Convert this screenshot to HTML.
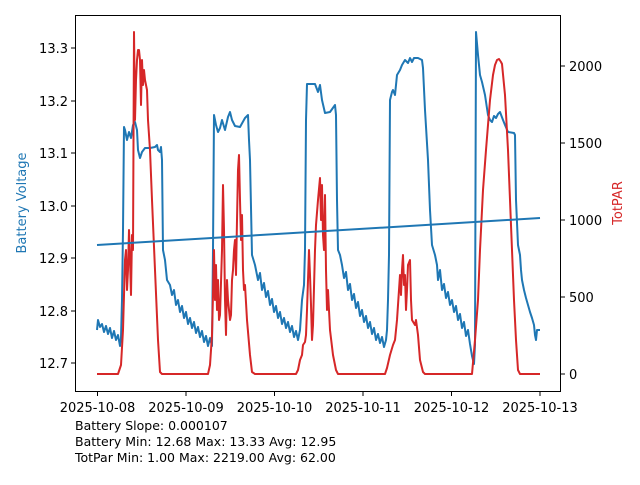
<!DOCTYPE html>
<html><head><style>
body{margin:0;background:#fff;}
svg text{font-family:"DejaVu Sans","Liberation Sans",sans-serif;}
</style></head><body>
<svg width="640" height="480" xmlns="http://www.w3.org/2000/svg">
<rect width="640" height="480" fill="#fff"/>
<g fill="none" stroke-linejoin="round">
<polyline stroke="#1f77b4" stroke-width="2" points="97,330 98,320 100,327 102,324 104,332 106,326 108,334 110,328 112,338 114,331 116,340 118,335 120,346 121,338 122,300 123,230 124,127 125,130 127,140 129,132 131,138 133,125 135,122 137,130 138,150 140,158 142,152 145,148 150,148 155,147 157,145 158,150 160,152 161,147 162,160 163,250 165,260 167,280 170,285 172,295 174,290 176,305 178,300 180,312 182,306 184,318 186,312 188,324 190,318 192,328 194,322 196,333 198,327 200,337 202,331 204,342 206,336 208,346 210,338 212,346 213,250 214,115 216,125 218,132 220,128 222,120 225,130 228,117 230,112 232,120 235,126 240,127 245,118 248,115 249,140 250,160 252,255 255,265 258,280 260,273 262,290 264,283 266,297 268,291 270,305 272,299 274,312 276,306 278,318 280,312 282,324 284,318 286,328 288,322 290,332 292,326 294,337 296,331 298,340 300,330 302,300 304,285 305,250 306,120 307,84 315,84 318,92 320,85 322,100 325,113 330,112 335,105 336,115 337,200 338,250 340,255 342,265 344,278 346,272 348,290 350,284 352,300 354,294 356,308 358,302 360,316 362,310 364,322 366,316 368,328 370,322 372,334 374,328 376,340 378,334 380,343 382,337 384,347 386,340 387,330 388,300 389,255 390,100 392,92 393,90 395,95 397,75 400,70 402,65 405,60 408,63 410,58 412,62 414,58 418,58 422,60 423,68 425,110 428,160 430,210 432,245 435,255 437,265 438,280 440,270 442,290 444,284 446,298 448,292 450,305 452,300 454,312 456,306 458,320 460,314 462,328 464,322 466,336 468,330 470,344 472,356 474,364 475,345 476,32 478,55 480,75 482,82 485,95 488,115 490,120 492,122 494,116 496,118 498,114 500,112 503,120 505,125 508,132 514,133 515,135 516,200 518,245 520,255 521,270 522,280 524,290 526,298 528,305 530,312 532,318 534,325 535,335 536,340 537,330 540,330"/>
<polyline stroke="#d62728" stroke-width="2" points="97,374 118,374 121,365 123,330 125,260 126,250 127,290 128,270 129,230 130,260 131,295 132,235 133,250 134,32 135,120 136,80 137,60 138,50 139,50 140,60 141,105 142,60 143,85 144,70 145,80 147,90 148,120 150,150 152,200 155,270 158,340 160,372 162,374 208,374 210,365 212,335 213,295 214,250 215,300 216,265 217,310 218,280 219,320 220,315 222,250 223,185 224,230 225,300 226,335 227,280 228,300 230,320 231,315 232,280 233,270 234,250 235,240 236,275 237,220 238,170 239,155 240,200 241,240 242,215 243,270 244,290 245,285 247,320 250,355 252,372 255,374 296,374 298,370 300,360 302,355 303,345 305,342 306,335 307,310 308,280 309,250 310,275 311,305 312,340 313,325 315,250 316,225 318,200 320,178 321,220 322,185 323,235 324,250 325,195 326,270 327,310 328,290 330,330 333,355 336,370 338,374 385,374 387,368 390,355 393,345 395,340 397,320 400,275 401,295 402,270 403,255 404,285 405,275 406,310 407,290 408,265 410,260 411,300 412,320 415,325 416,320 418,335 420,360 423,372 425,374 472,374 475,340 478,300 480,250 483,190 486,150 490,100 493,75 495,65 497,60 499,59 501,62 502,64 505,95 508,150 510,200 512,250 514,300 516,340 518,370 520,374 540,374"/>
<line x1="97" y1="245" x2="540" y2="218" stroke="#1f77b4" stroke-width="2"/>
</g>
<rect x="75.5" y="15.5" width="485" height="376" fill="none" stroke="#000" stroke-width="1"/>
<g stroke="#000" stroke-width="1">
<line x1="75" y1="48" x2="71" y2="48"/><line x1="75" y1="101" x2="71" y2="101"/><line x1="75" y1="153" x2="71" y2="153"/><line x1="75" y1="206" x2="71" y2="206"/><line x1="75" y1="258" x2="71" y2="258"/><line x1="75" y1="311" x2="71" y2="311"/><line x1="75" y1="363" x2="71" y2="363"/>
<line x1="561" y1="374" x2="565" y2="374"/><line x1="561" y1="297" x2="565" y2="297"/><line x1="561" y1="220" x2="565" y2="220"/><line x1="561" y1="143" x2="565" y2="143"/><line x1="561" y1="66" x2="565" y2="66"/>
<line x1="97.5" y1="392" x2="97.5" y2="396"/><line x1="186" y1="392" x2="186" y2="396"/><line x1="274.5" y1="392" x2="274.5" y2="396"/><line x1="363" y1="392" x2="363" y2="396"/><line x1="451.5" y1="392" x2="451.5" y2="396"/><line x1="540" y1="392" x2="540" y2="396"/>
</g>
<g font-size="13" text-anchor="end">
<text x="68" y="53">13.3</text><text x="68" y="106">13.2</text><text x="68" y="158">13.1</text><text x="68" y="211">13.0</text><text x="68" y="263">12.9</text><text x="68" y="316">12.8</text><text x="68" y="368">12.7</text>
</g>
<g font-size="13">
<text x="569" y="379">0</text><text x="569" y="302">500</text><text x="569" y="225">1000</text><text x="569" y="148">1500</text><text x="569" y="71">2000</text>
</g>
<g font-size="13" text-anchor="middle">
<text x="97.5" y="412">2025-10-08</text><text x="186" y="412">2025-10-09</text><text x="274.5" y="412">2025-10-10</text><text x="363" y="412">2025-10-11</text><text x="451.5" y="412">2025-10-12</text><text x="540" y="412">2025-10-13</text>
</g>
<text font-size="13" fill="#1f77b4" text-anchor="middle" transform="translate(26,203) rotate(-90)">Battery Voltage</text>
<text font-size="13" fill="#d62728" text-anchor="middle" transform="translate(622,203) rotate(-90)">TotPAR</text>
<g font-size="12.5">
<text x="75" y="430">Battery Slope: 0.000107</text>
<text x="75" y="446">Battery Min: 12.68 Max: 13.33 Avg: 12.95</text>
<text x="75" y="462">TotPar Min: 1.00 Max: 2219.00 Avg: 62.00</text>
</g>
</svg>
</body></html>
